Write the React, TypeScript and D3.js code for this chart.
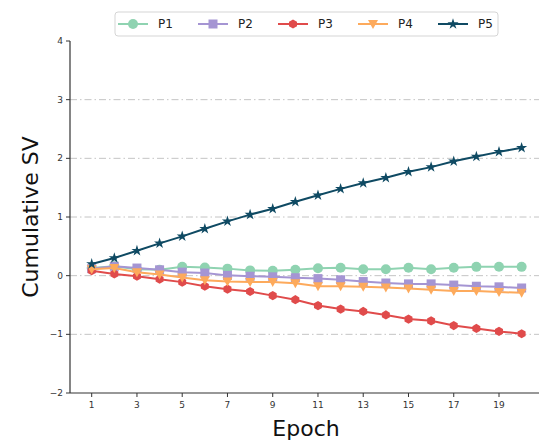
import React from "react";
import * as d3 from "d3";

const epochs = d3.range(1, 21);
const seriesNames = ["P1", "P2", "P3", "P4", "P5"];
const p1 = [0.13, 0.16, 0.11, 0.1, 0.15, 0.14, 0.12, 0.09, 0.085, 0.1, 0.125, 0.136, 0.11, 0.11, 0.136, 0.11, 0.136, 0.15, 0.153, 0.15];
const p2 = [0.12, 0.16, 0.13, 0.1, 0.06, 0.045, 0.005, -0.01, -0.02, -0.035, -0.05, -0.07, -0.1, -0.125, -0.14, -0.14, -0.16, -0.18, -0.19, -0.21];
const p3 = [0.085, 0.03, -0.01, -0.06, -0.11, -0.18, -0.23, -0.27, -0.34, -0.41, -0.51, -0.57, -0.61, -0.67, -0.74, -0.77, -0.85, -0.9, -0.95, -0.99];
const p4 = [0.11, 0.13, 0.06, 0.02, -0.03, -0.08, -0.1, -0.11, -0.11, -0.13, -0.18, -0.18, -0.19, -0.2, -0.22, -0.24, -0.26, -0.26, -0.28, -0.29];
const p5 = [0.2, 0.3, 0.426, 0.55, 0.67, 0.8, 0.925, 1.04, 1.14, 1.26, 1.37, 1.48, 1.58, 1.67, 1.77, 1.85, 1.95, 2.03, 2.11, 2.18];
const xTicks = [1, 3, 5, 7, 9, 11, 13, 15, 17, 19];
const yTicks = [-2, -1, 0, 1, 2, 3, 4];
const gridTicks = [-1, 0, 1, 2, 3];

const colors = ["#8fd3b1", "#a595d3", "#e04b4b", "#fdaa5c", "#0f4a63"];
const allSeries = [p1, p2, p3, p4, p5];

const W = 539, H = 443;
const left = 70, bottom = 393, top = 41;

function Marker({ kind, x, y, color }: { kind: number; x: number; y: number; color: string }) {
  if (kind === 0) return <circle cx={x} cy={y} r={5} fill={color} />;
  if (kind === 1) return <rect x={x - 4.5} y={y - 4.5} width={9} height={9} fill={color} />;
  if (kind === 2) {
    const pts = d3.range(6).map((i) => {
      const a = (Math.PI / 3) * i - Math.PI / 2;
      return `${x + 4.6 * Math.cos(a)},${y + 4.6 * Math.sin(a)}`;
    });
    return <polygon points={pts.join(" ")} fill={color} />;
  }
  if (kind === 3) return <polygon points={`${x - 5},${y - 4} ${x + 5},${y - 4} ${x},${y + 5}`} fill={color} />;
  const star = d3.symbol(d3.symbolStar, 38)();
  return <path d={star || ""} transform={`translate(${x},${y})`} fill={color} />;
}

export default function App() {
  const x = d3.scaleLinear().domain([1, 19]).range([91.7, 499]);
  const y = d3.scaleLinear().domain([-2, 4]).range([bottom, top]);
  const line = d3.line<number>().x((_, i) => x(epochs[i])).y((d) => y(d));

  return (
    <svg width={W} height={H} style={{ position: "absolute", left: 0, top: 0, background: "#fff" }} fontFamily="DejaVu Sans">
      {gridTicks.map((t) => (
        <line key={t} x1={left} x2={W} y1={y(t)} y2={y(t)} stroke="#c4c4c4" strokeWidth={1} strokeDasharray="7 3 1.5 3" />
      ))}
      <line x1={left} x2={left} y1={top} y2={bottom} stroke="#333" strokeWidth={1.2} />
      <line x1={left} x2={W} y1={bottom} y2={bottom} stroke="#333" strokeWidth={1.2} />
      {yTicks.map((t) => (
        <g key={t}>
          <line x1={left - 4} x2={left} y1={y(t)} y2={y(t)} stroke="#333" />
          <text x={left - 7} y={y(t)} dy="0.35em" textAnchor="end" fontSize={9} fill="#333">
            {t < 0 ? "\u2212" + Math.abs(t) : t}
          </text>
        </g>
      ))}
      {xTicks.map((t) => (
        <g key={t}>
          <line x1={x(t)} x2={x(t)} y1={bottom} y2={bottom + 4} stroke="#333" />
          <text x={x(t)} y={bottom + 15} textAnchor="middle" fontSize={9} fill="#333">{t}</text>
        </g>
      ))}
      <text x={306} y={436} textAnchor="middle" fontSize={22} fill="#111">Epoch</text>
      <text transform={`translate(38,217) rotate(-90)`} textAnchor="middle" fontSize={22} fill="#111">Cumulative SV</text>
      {allSeries.map((s, k) => (
        <g key={k}>
          <path d={line(s) || ""} fill="none" stroke={colors[k]} strokeWidth={2} />
          {s.map((v, i) => (
            <Marker key={i} kind={k} x={x(epochs[i])} y={y(v)} color={colors[k]} />
          ))}
        </g>
      ))}
      <rect x={115} y={12} width={383} height={24} rx={3} fill="#fff" stroke="#d5d5d5" />
      {seriesNames.map((n, k) => {
        const lx = 118 + k * 80;
        return (
          <g key={n}>
            <line x1={lx} x2={lx + 30} y1={24} y2={24} stroke={colors[k]} strokeWidth={2} />
            <Marker kind={k} x={lx + 15} y={24} color={colors[k]} />
            <text x={lx + 40} y={24} dy="0.35em" fontSize={12} fill="#222">{n}</text>
          </g>
        );
      })}
    </svg>
  );
}
